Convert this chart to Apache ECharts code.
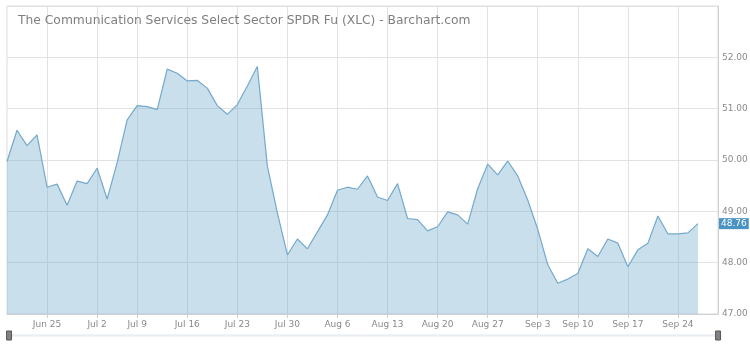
<!DOCTYPE html>
<html>
<head>
<meta charset="utf-8">
<script src="https://cdn.jsdelivr.net/npm/echarts@6/dist/echarts.min.js"></script>
<style>
  html, body { margin: 0; padding: 0; background: #fff; }
  #chart { width: 750px; height: 346px; }
</style>
</head>
<body>
<div id="chart"></div>
<script>
// trading days, plus two empty slots at the end of the axis
const dates = [
  'Jun 19', 'Jun 20', 'Jun 21', 'Jun 22', 'Jun 25', 'Jun 26', 'Jun 27', 'Jun 28', 'Jun 29',
  'Jul 2', 'Jul 3', 'Jul 5', 'Jul 6',
  'Jul 9', 'Jul 10', 'Jul 11', 'Jul 12', 'Jul 13',
  'Jul 16', 'Jul 17', 'Jul 18', 'Jul 19', 'Jul 20',
  'Jul 23', 'Jul 24', 'Jul 25', 'Jul 26', 'Jul 27',
  'Jul 30', 'Jul 31', 'Aug 1', 'Aug 2', 'Aug 3',
  'Aug 6', 'Aug 7', 'Aug 8', 'Aug 9', 'Aug 10',
  'Aug 13', 'Aug 14', 'Aug 15', 'Aug 16', 'Aug 17',
  'Aug 20', 'Aug 21', 'Aug 22', 'Aug 23', 'Aug 24',
  'Aug 27', 'Aug 28', 'Aug 29', 'Aug 30', 'Aug 31',
  'Sep 4', 'Sep 5', 'Sep 6', 'Sep 7',
  'Sep 10', 'Sep 11', 'Sep 12', 'Sep 13', 'Sep 14',
  'Sep 17', 'Sep 18', 'Sep 19', 'Sep 20', 'Sep 21',
  'Sep 24', 'Sep 25', 'Sep 26', 'Sep 27', 'Sep 28'
];

const closes = [
  49.97, 50.58, 50.28, 50.49, 49.47, 49.53, 49.12, 49.59, 49.54, 49.84,
  49.24, 49.95, 50.78, 51.06, 51.04, 50.98, 51.77, 51.69, 51.54, 51.55,
  51.40, 51.06, 50.89, 51.08, 51.44, 51.82, 49.88, 48.97, 48.15, 48.46,
  48.27, 48.60, 48.93, 49.41, 49.47, 49.43, 49.69, 49.28, 49.21, 49.54,
  48.86, 48.84, 48.62, 48.70, 48.99, 48.93, 48.75, 49.44, 49.92, 49.71,
  49.98, 49.69, 49.22, 48.65, 47.96, 47.60, 47.68, 47.79, 48.27, 48.12,
  48.46, 48.38, 47.92, 48.25, 48.38, 48.91, 48.56, 48.56, 48.58, 48.76
];

// weekly ticks (the Sep 3 holiday tick sits on Sep 4)
const tickDates = ['Jun 25', 'Jul 2', 'Jul 9', 'Jul 16', 'Jul 23', 'Jul 30', 'Aug 6',
  'Aug 13', 'Aug 20', 'Aug 27', 'Sep 4', 'Sep 10', 'Sep 17', 'Sep 24'];
const tickLabels = ['Jun 25', 'Jul 2', 'Jul 9', 'Jul 16', 'Jul 23', 'Jul 30', 'Aug 6',
  'Aug 13', 'Aug 20', 'Aug 27', 'Sep 3', 'Sep 10', 'Sep 17', 'Sep 24'];

const lastClose = closes[closes.length - 1];
const isTick = (i, name) => tickDates.indexOf(name) >= 0;

const chart = echarts.init(document.getElementById('chart'), null, { renderer: 'canvas' });

chart.setOption({
  animation: false,
  backgroundColor: '#fff',
  title: {
    text: 'The Communication Services Select Sector SPDR Fu (XLC) - Barchart.com',
    left: 13,
    top: 10,
    textStyle: { fontFamily: 'DejaVu Sans', fontSize: 12.3, fontWeight: 'normal', color: '#808080' }
  },
  grid: {
    left: 7, right: 32, top: 6, bottom: 32,
    outerBoundsMode: 'none',
    show: true, borderColor: '#dcdcdc', borderWidth: 1
  },
  xAxis: {
    type: 'category',
    data: dates,
    boundaryGap: false,
    axisLine: { show: true, lineStyle: { color: '#d0d0d0' } },
    axisTick: { show: true, interval: isTick, length: 4, lineStyle: { color: '#d0d0d0' } },
    axisLabel: {
      interval: isTick,
      formatter: name => tickLabels[tickDates.indexOf(name)] || '',
      color: '#8a8a8a',
      fontFamily: 'DejaVu Sans',
      fontSize: 9,
      margin: 6
    },
    splitLine: { show: true, interval: isTick, lineStyle: { color: '#e2e2e2' } }
  },
  yAxis: {
    type: 'value',
    position: 'right',
    min: 47,
    max: 53,
    interval: 1,
    axisLine: { show: true, lineStyle: { color: '#d0d0d0' } },
    axisTick: { show: false },
    axisLabel: {
      showMaxLabel: false,
      formatter: v => v.toFixed(2),
      color: '#8a8a8a',
      fontFamily: 'DejaVu Sans',
      fontSize: 9,
      margin: 4
    },
    splitLine: { show: true, lineStyle: { color: '#e2e2e2' } }
  },
  dataZoom: [{
    type: 'slider',
    xAxisIndex: 0,
    filterMode: 'none',
    start: 0,
    end: 100,
    left: 7,
    right: 32,
    bottom: 10,
    height: 2,
    backgroundColor: 'transparent',
    borderColor: '#e3e8ef',
    fillerColor: 'transparent',
    showDetail: false,
    showDataShadow: false,
    brushSelect: false,
    moveHandleSize: 0,
    handleIcon: 'path://M0 0H5V9H0Z',
    handleSize: 9,
    handleStyle: { color: '#808080', borderColor: '#555' }
  }],
  series: [{
    type: 'line',
    data: closes,
    showSymbol: false,
    lineStyle: { color: '#74a9cc', width: 1.2 },
    areaStyle: { color: 'rgb(113,171,202)', opacity: 0.38 },
    markLine: {
      silent: true,
      symbol: 'none',
      data: [{ yAxis: lastClose }],
      lineStyle: { color: 'transparent', width: 0 },
      label: {
        show: true,
        position: 'end',
        distance: 1,
        formatter: lastClose.toFixed(2),
        color: '#fff',
        backgroundColor: '#4b93c3',
        padding: [1, 2],
        fontFamily: 'DejaVu Sans',
        fontSize: 9
      }
    }
  }]
});
</script>
</body>
</html>
